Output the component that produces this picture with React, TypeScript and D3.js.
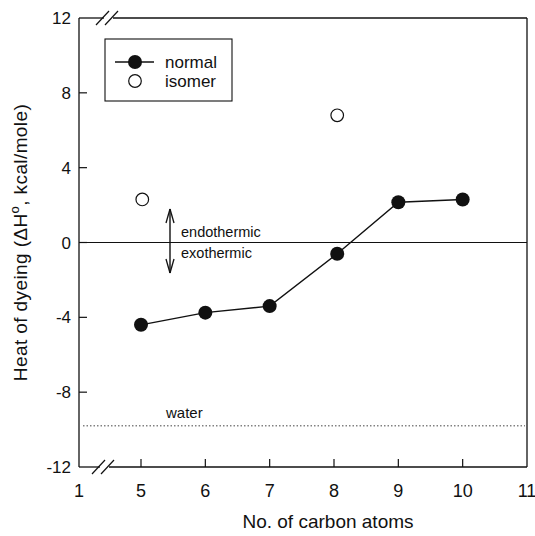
import React, { useEffect, useRef } from 'react';
import * as d3 from 'd3';

// carbon atoms vs heat of dyeing (kcal/mole)
const normalX = [5, 6, 7, 8.05, 9, 10];
const normalY = [-4.4, -3.75, -3.4, -0.6, 2.15, 2.3];
const isomerX = [5.02, 8.05];
const isomerY = [2.3, 6.8];
const xTicks = [1, 5, 6, 7, 8, 9, 10, 11];
const yTicks = [12, 8, 4, 0, -4, -8, -12];
const waterLevel = -9.8;

const W = 535;
const H = 536;
const FONT = '"Liberation Sans", Arial, sans-serif';

const App = () => {
  const svgRef = useRef<SVGSVGElement>(null);

  useEffect(() => {
    const svg = d3.select(svgRef.current);
    svg.selectAll('*').remove();

    const left = 79, right = 527, top = 18, bottom = 467;

    // x axis is broken between 1 and 5
    const x = d3.scaleLinear().domain([1, 5, 11]).range([left, 141, right]);
    const y = d3.scaleLinear().domain([-12, 12]).range([bottom, top]);

    const g = svg.append('g');

    const ink = '#111';
    const line = (x1, y1, x2, y2, w = 1.3) =>
      g.append('line').attr('x1', x1).attr('y1', y1).attr('x2', x2).attr('y2', y2)
        .attr('stroke', ink).attr('stroke-width', w);

    // frame, with gaps for the breaks
    line(left, top, left, bottom);
    line(right, top, right, bottom);
    line(left, top, 104, top);
    line(113, top, right, top);
    line(left, bottom, 100, bottom);
    line(109, bottom, right, bottom);

    // break marks
    [[top, 96], [bottom, 92]].forEach(([yy, x0]) => {
      line(x0, yy + 7, x0 + 13, yy - 7, 1.2);
      line(x0 + 9, yy + 7, x0 + 22, yy - 7, 1.2);
    });

    // ticks (inward)
    xTicks.slice(1, -1).forEach(t => {
      line(x(t), bottom, x(t), bottom - 8, 1.2);
    });
    yTicks.slice(1, -1).forEach(t => {
      line(left, y(t), left + 8, y(t), 1.2);
    });

    g.selectAll('.xl').data(xTicks).enter().append('text')
      .attr('x', d => x(d)).attr('y', bottom + 30)
      .attr('text-anchor', 'middle').attr('font-family', FONT).attr('font-size', 18)
      .attr('fill', ink).text(d => d);

    g.selectAll('.yl').data(yTicks).enter().append('text')
      .attr('x', left - 8).attr('y', d => y(d) + 6)
      .attr('text-anchor', 'end').attr('font-family', FONT).attr('font-size', 17)
      .attr('fill', ink).text(d => d);

    // axis titles
    g.append('text')
      .attr('x', 328).attr('y', 528)
      .attr('text-anchor', 'middle').attr('font-family', FONT).attr('font-size', 19)
      .attr('fill', ink).text('No. of carbon atoms');

    const yt = g.append('text')
      .attr('transform', `translate(27,${(top + bottom) / 2}) rotate(-90)`)
      .attr('text-anchor', 'middle').attr('font-family', FONT).attr('font-size', 19)
      .attr('letter-spacing', 0.4).attr('fill', ink);
    yt.append('tspan').text('Heat of dyeing (ΔH');
    yt.append('tspan').attr('dy', -8).attr('font-size', 13).text('o');
    yt.append('tspan').attr('dy', 8).text(', kcal/mole)');

    // zero line
    line(left, y(0), right, y(0), 1.2);

    // water dotted line
    line(left + 4, y(waterLevel), right - 2, y(waterLevel), 1)
      .attr('stroke-dasharray', '1.5,2').attr('stroke', '#444');
    g.append('text')
      .attr('x', 166).attr('y', y(waterLevel) - 8)
      .attr('font-family', FONT).attr('font-size', 15).attr('fill', ink).text('water');

    // endothermic / exothermic arrow
    const ax = 170;
    line(ax, 209, ax, 273, 1.4);
    line(ax, 209, ax - 4, 223, 1.3);
    line(ax, 209, ax + 4, 223, 1.3);
    line(ax, 273, ax - 4, 259, 1.3);
    line(ax, 273, ax + 4, 259, 1.3);
    g.append('text').attr('x', 181).attr('y', 237)
      .attr('font-family', FONT).attr('font-size', 14.5).attr('fill', ink).text('endothermic');
    g.append('text').attr('x', 181).attr('y', 258)
      .attr('font-family', FONT).attr('font-size', 14.5).attr('fill', ink).text('exothermic');

    // normal series
    const lineGen = d3.line<number>().x((d, i) => x(normalX[i])).y(d => y(d));
    g.append('path').datum(normalY).attr('d', lineGen)
      .attr('fill', 'none').attr('stroke', ink).attr('stroke-width', 1.4);
    g.selectAll('.n').data(normalY).enter().append('circle')
      .attr('cx', (d, i) => x(normalX[i])).attr('cy', d => y(d))
      .attr('r', 7).attr('fill', ink);

    // isomer series
    g.selectAll('.iso').data(isomerY).enter().append('circle')
      .attr('cx', (d, i) => x(isomerX[i])).attr('cy', d => y(d))
      .attr('r', 6.3).attr('fill', '#fff').attr('stroke', ink).attr('stroke-width', 1.2);

    // legend
    g.append('rect').attr('x', 105).attr('y', 39).attr('width', 127).attr('height', 62)
      .attr('fill', '#fff').attr('stroke', ink).attr('stroke-width', 1.1);
    line(115, 62, 154, 62, 1.3);
    g.append('circle').attr('cx', 135).attr('cy', 62).attr('r', 7).attr('fill', ink);
    g.append('circle').attr('cx', 135).attr('cy', 81).attr('r', 6.3)
      .attr('fill', '#fff').attr('stroke', ink).attr('stroke-width', 1.2);
    g.append('text').attr('x', 165).attr('y', 68)
      .attr('font-family', FONT).attr('font-size', 17).attr('fill', ink).text('normal');
    g.append('text').attr('x', 165).attr('y', 87)
      .attr('font-family', FONT).attr('font-size', 17).attr('fill', ink).text('isomer');
  }, []);

  return (
    <svg ref={svgRef} width={W} height={H}
      style={{ position: 'absolute', left: 0, top: 0, background: '#fff' }} />
  );
};

export default App;
